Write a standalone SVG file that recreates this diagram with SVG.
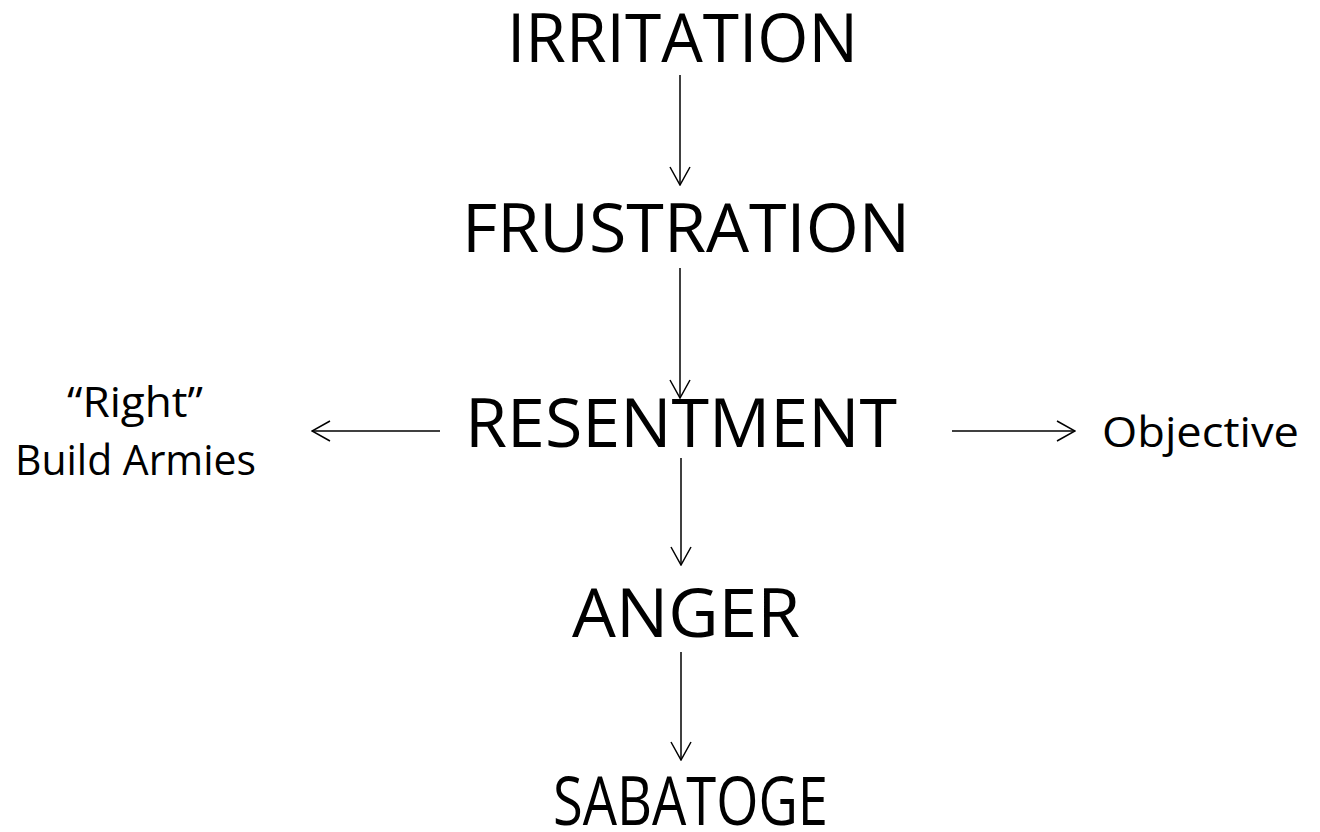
<svg xmlns="http://www.w3.org/2000/svg" width="1320" height="832" viewBox="0 0 1320 832">
<style>
.big{font-family:"Open Sans","Liberation Sans",sans-serif;font-size:67px;fill:#000}
.small{font-family:"Open Sans","Liberation Sans",sans-serif;font-size:42px;fill:#000}
.c{stroke:#000;stroke-width:1.5;fill:none}
</style>
<defs>
<marker id="ah" viewBox="0 0 20 22" refX="19" refY="11" markerWidth="20" markerHeight="22" markerUnits="userSpaceOnUse" orient="auto">
<path d="M1,1 L19,11 L1,21" fill="none" stroke="#000" stroke-width="1.5"/>
</marker>
</defs>
<rect width="1320" height="832" fill="#fff"/>
<g id="irritation"><text class="big" x="507" y="62" textLength="351" lengthAdjust="spacingAndGlyphs">IRRITATION</text></g>
<g id="frustration"><text class="big" x="462" y="252" textLength="448" lengthAdjust="spacingAndGlyphs">FRUSTRATION</text></g>
<g id="resentment"><text class="big" x="465" y="447" textLength="432" lengthAdjust="spacingAndGlyphs">RESENTMENT</text></g>
<g id="anger"><text class="big" x="572" y="637" textLength="228" lengthAdjust="spacingAndGlyphs">ANGER</text></g>
<g id="sabatoge"><text class="big" x="553" y="825" textLength="275" lengthAdjust="spacingAndGlyphs">SABATOGE</text></g>
<g id="right-build"><text class="small" x="67" y="417" textLength="136" lengthAdjust="spacingAndGlyphs">“Right”</text><text class="small" x="15" y="475" textLength="241" lengthAdjust="spacingAndGlyphs">Build Armies</text></g>
<g id="objective"><text class="small" x="1102" y="447" textLength="197" lengthAdjust="spacingAndGlyphs">Objective</text></g>
<g id="connectors">
<line class="c" x1="680" y1="75" x2="680" y2="185" marker-end="url(#ah)"/>
<line class="c" x1="680" y1="268" x2="680" y2="398" marker-end="url(#ah)"/>
<line class="c" x1="440" y1="431" x2="312" y2="431" marker-end="url(#ah)"/>
<line class="c" x1="952" y1="431" x2="1075" y2="431" marker-end="url(#ah)"/>
<line class="c" x1="681" y1="458" x2="681" y2="565" marker-end="url(#ah)"/>
<line class="c" x1="681" y1="652" x2="681" y2="760" marker-end="url(#ah)"/>
</g>
</svg>
